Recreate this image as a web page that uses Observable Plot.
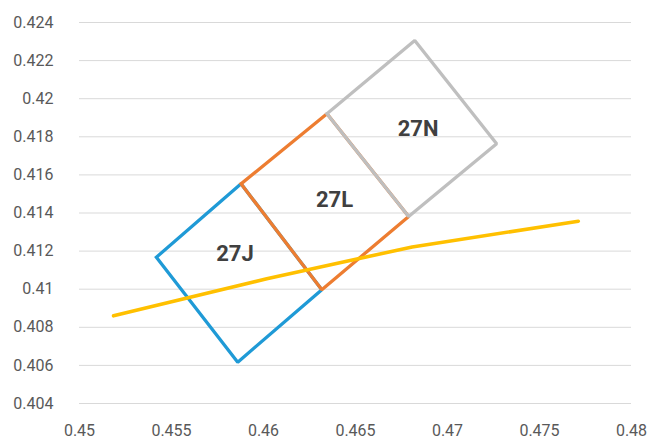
<!DOCTYPE html>
<html>
<head>
<meta charset="utf-8">
<script src="https://cdn.jsdelivr.net/npm/d3@7"></script>
<script src="https://cdn.jsdelivr.net/npm/@observablehq/plot@0.6"></script>
<style>
  html, body { margin: 0; padding: 0; background: #fff; }
  #chart { width: 648px; height: 441px; }
</style>
</head>
<body>
<div id="chart"></div>
<script>
// Quadrilateral outlines (vertices in order)
const box27J_x = [0.45418, 0.45878, 0.46317, 0.45860];
const box27J_y = [0.41168, 0.41553, 0.40997, 0.40617];
const box27L_x = [0.45878, 0.46345, 0.46789, 0.46317];
const box27L_y = [0.41553, 0.41921, 0.41382, 0.40997];
const box27N_x = [0.46345, 0.46822, 0.47267, 0.46789];
const box27N_y = [0.41921, 0.42306, 0.41763, 0.41382];

// Yellow line
const lineX = [0.45185, 0.46018, 0.46808, 0.47711];
const lineY = [0.40860, 0.41055, 0.41222, 0.41357];

// Labels
const labelText = ["27J", "27L", "27N"];
const labelX = [0.45845, 0.46386, 0.46840];
const labelY = [0.41186, 0.41466, 0.41842];

// Tick values
const xTicks = [0.45, 0.455, 0.46, 0.465, 0.47, 0.475, 0.48];
const yTicks = [0.404, 0.406, 0.408, 0.41, 0.412, 0.414, 0.416, 0.418, 0.42, 0.422, 0.424];

const colors = {"27J": "#1f9ad6", "27L": "#ed7d31", "27N": "#bfbfbf"};

function poly(name, xs, ys) {
  const pts = xs.map((x, i) => ({name, x, y: ys[i]}));
  pts.push({...pts[0]});
  return pts;
}
const boxes = [
  poly("27J", box27J_x, box27J_y),
  poly("27L", box27L_x, box27L_y),
  poly("27N", box27N_x, box27N_y)
];
const lineData = lineX.map((x, i) => ({x, y: lineY[i]}));
const labels = labelText.map((t, i) => ({t, x: labelX[i], y: labelY[i]}));
const fmt = d => String(Number(d.toFixed(4)));

const chart = Plot.plot({
  width: 648,
  height: 441,
  marginLeft: 79,
  marginRight: 17,
  marginTop: 22,
  marginBottom: 38,
  style: {fontFamily: "Roboto, sans-serif", background: "#fff", overflow: "visible"},
  x: {domain: [0.45, 0.48], ticks: xTicks, tickFormat: fmt},
  y: {domain: [0.404, 0.424], ticks: yTicks, tickFormat: fmt},
  marks: [
    Plot.gridY(yTicks, {stroke: "#d9d9d9", strokeOpacity: 1, strokeWidth: 1}),
    Plot.axisX(xTicks, {tickSize: 0, tickPadding: 21, tickFormat: fmt, fontSize: 16, fill: "#595959", label: null}),
    Plot.axisY(yTicks, {tickSize: 0, tickPadding: 26, tickFormat: fmt, fontSize: 16, fill: "#595959", label: null}),
    ...boxes.map(b => Plot.line(b, {x: "x", y: "y", stroke: colors[b[0].name], strokeWidth: 3.3, strokeLinejoin: "miter", strokeLinecap: "square"})),
    Plot.line(lineData, {x: "x", y: "y", stroke: "#ffc000", strokeWidth: 3.6, strokeLinecap: "round"}),
    Plot.text(labels, {x: "x", y: "y", text: "t", fontSize: 22, fontWeight: "bold", fill: "#404040"})
  ]
});
document.getElementById("chart").appendChild(chart);
</script>
</body>
</html>
